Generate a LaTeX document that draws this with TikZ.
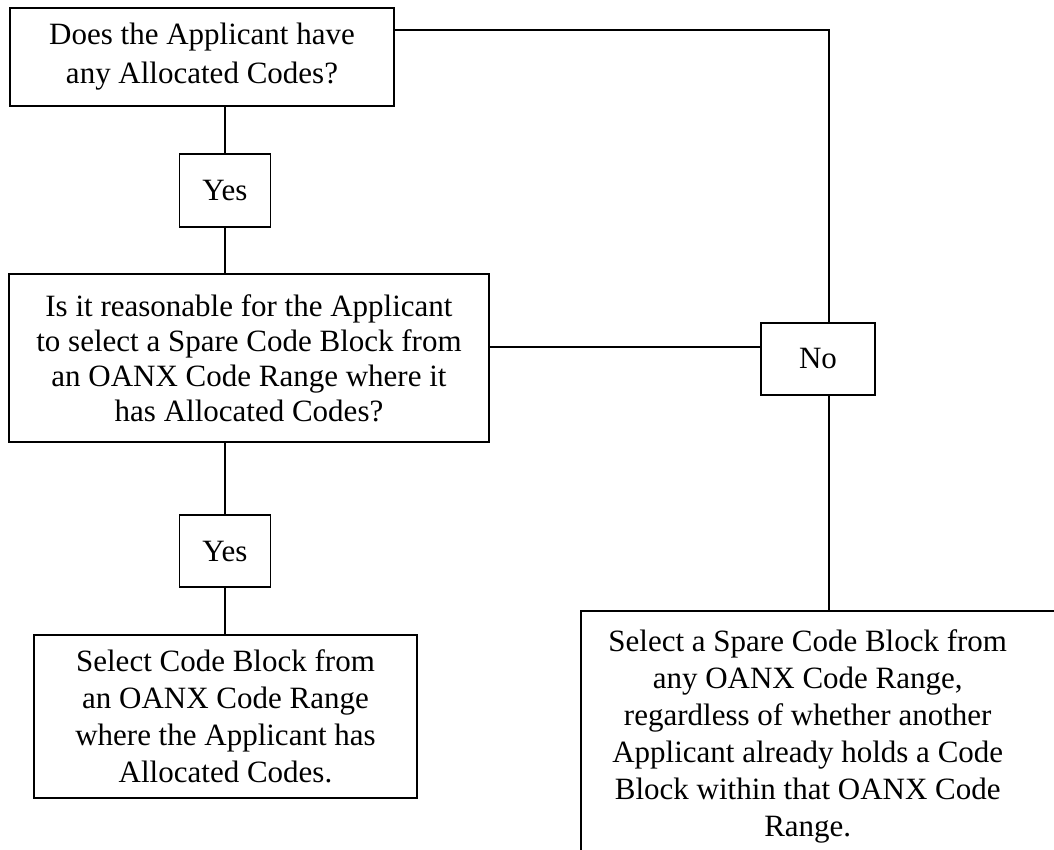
\documentclass[tikz,border=0pt]{standalone}
\usepackage{fontspec}
\setmainfont{Liberation Serif}
\tikzstyle{decision} = [rectangle, 
draw=black, 
line width=1.5pt, 
inner sep=0pt, 
align=center, 
font=\fontsize{31}{37}\selectfont]
\tikzstyle{answer} = [decision, minimum width=91pt, minimum height=73pt]
\tikzstyle{link} = [line width=1.5pt]
\begin{document}
\begin{tikzpicture}[x=1pt, y=-1pt]
        \path [use as bounding box, clip] (0,0) rectangle (1054,850);
        \node (haveCodes) [decision, minimum width=384pt, minimum height=98pt, font=\fontsize{31}{39}\selectfont] at (202,57) {Does the Applicant have\\any Allocated Codes?};
        \node (yesA) [answer] at (225,190.5) {Yes};
        \node (reasonable) [decision, minimum width=480pt, minimum height=168pt, font=\fontsize{31}{35}\selectfont] at (249,358) {Is it reasonable for the Applicant\\to select a Spare Code Block from\\an OANX Code Range where it\\has Allocated Codes?};
        \node (no) [answer, minimum width=114pt, minimum height=72pt] at (818,359) {No};
        \node (yesB) [answer, minimum height=72pt] at (225,551) {Yes};
        \node (selectOwn) [decision, minimum width=383pt, minimum height=163pt] at (225.5,716.5) {Select Code Block from\\an OANX Code Range\\where the Applicant has\\Allocated Codes.};
        \node (selectAny) [decision, draw=none, anchor=north west, minimum width=452pt, inner ysep=18pt] at (581,611) {Select a Spare Code Block from\\any OANX Code Range,\\regardless of whether another\\Applicant already holds a Code\\Block within that OANX Code\\Range.};
        \draw [link] (selectAny.north west) rectangle ++(520,300);
        \coordinate (turn) at (829,30);
        \coordinate (split) at (761,347);
        \draw [link] (haveCodes.east |- turn) -- (turn) -- (turn |- no.north);
        \draw [link] (yesA.north |- haveCodes.south) -- (yesA.north);
        \draw [link] (yesA.south) -- (yesA.south |- reasonable.north);
        \draw [link] (reasonable.east |- split) -- (split -| no.west);
        \draw [link] (yesB.north |- reasonable.south) -- (yesB.north);
        \draw [link] (yesB.south) -- (yesB.south |- selectOwn.north);
        \draw [link] (turn |- no.south) -- (turn |- selectAny.north);
    \end{tikzpicture}
\end{document}
